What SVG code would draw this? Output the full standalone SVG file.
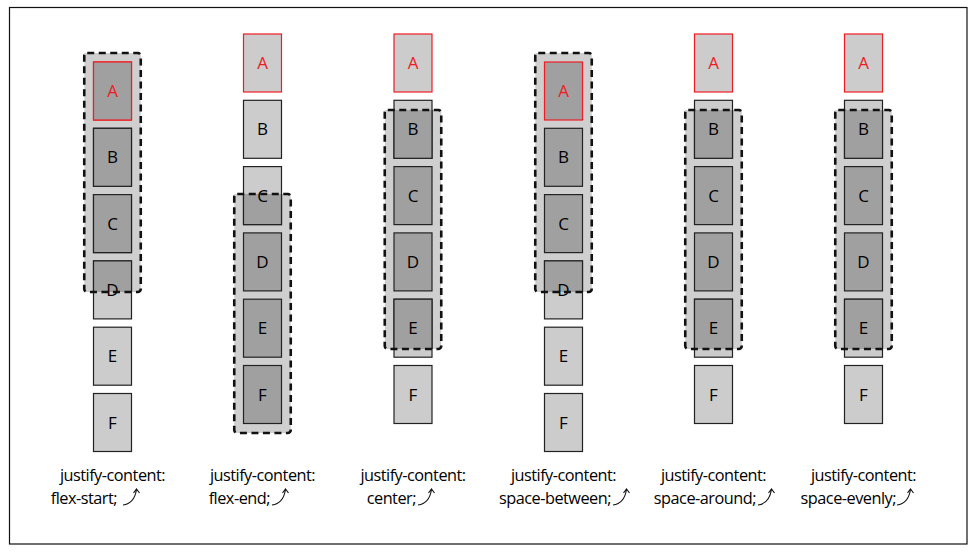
<svg xmlns="http://www.w3.org/2000/svg" width="977" height="552" viewBox="0 0 977 552">
<style>
.lt{fill:#cccccc;stroke:#222;stroke-width:1.2}
.dk{fill:#a0a0a0;stroke:#222;stroke-width:1.2}
.red{stroke:#ee1c24}
.cf{fill:#cfcfcf;stroke:none}
.cb{fill:none;stroke:#111;stroke-width:2.6;stroke-dasharray:7 4.5}
.t{font-family:"Open Sans","Liberation Sans",sans-serif;font-size:17px;fill:#000;text-anchor:middle}
.tr{fill:#ee1c24}
.lb{font-family:"Open Sans","Liberation Sans",sans-serif;font-size:16.3px;letter-spacing:-0.5px;fill:#000}
.ar{fill:none;stroke:#111;stroke-width:1.1}
</style>
<defs>
<clipPath id="k1"><rect x="84.25" y="53" width="56.5" height="239"/></clipPath>
<clipPath id="k2"><rect x="234.25" y="194" width="56.5" height="239"/></clipPath>
<clipPath id="k3"><rect x="384.75" y="110" width="56.5" height="239"/></clipPath>
<clipPath id="k4"><rect x="535.25" y="53" width="56.5" height="239"/></clipPath>
<clipPath id="k5"><rect x="685.25" y="110" width="56.5" height="239"/></clipPath>
<clipPath id="k6"><rect x="835.25" y="110" width="56.5" height="239"/></clipPath>
</defs>
<rect x="9.5" y="7.5" width="957.5" height="536.5" fill="#fff" stroke="#111" stroke-width="1.2"/>

<!-- column 1 flex-start -->
<g id="col1">
<rect class="cf" x="84.25" y="53" width="56.5" height="239"/>
<g id="c1-A"><rect class="lt red" x="93.5" y="62" width="38" height="58"/><rect class="dk red" x="93.5" y="62" width="38" height="58" clip-path="url(#k1)"/><text class="t tr" x="112.5" y="97">A</text></g>
<g id="c1-B"><rect class="lt" x="93.5" y="128.3" width="38" height="58"/><rect class="dk" x="93.5" y="128.3" width="38" height="58" clip-path="url(#k1)"/><text class="t" x="112.5" y="163.3">B</text></g>
<g id="c1-C"><rect class="lt" x="93.5" y="194.6" width="38" height="58"/><rect class="dk" x="93.5" y="194.6" width="38" height="58" clip-path="url(#k1)"/><text class="t" x="112.5" y="229.6">C</text></g>
<g id="c1-D"><rect class="lt" x="93.5" y="260.9" width="38" height="58"/><rect class="dk" x="93.5" y="260.9" width="38" height="58" clip-path="url(#k1)"/><text class="t" x="112.5" y="295.9">D</text></g>
<g id="c1-E"><rect class="lt" x="93.5" y="327.2" width="38" height="58"/><text class="t" x="112.5" y="362.2">E</text></g>
<g id="c1-F"><rect class="lt" x="93.5" y="393.5" width="38" height="58"/><text class="t" x="112.5" y="428.5">F</text></g>
<rect id="c1-box" class="cb" x="84.25" y="53" width="56.5" height="239" rx="3"/>
<text class="lb" x="112.5" y="481" text-anchor="middle">justify-content:</text>
<text class="lb" x="117" y="504" text-anchor="end">flex-start;</text>
</g>

<!-- column 2 flex-end -->
<g id="col2">
<rect class="cf" x="234.25" y="194" width="56.5" height="239"/>
<g id="c2-A"><rect class="lt red" x="243.5" y="34" width="38" height="58"/><text class="t tr" x="262.5" y="69">A</text></g>
<g id="c2-B"><rect class="lt" x="243.5" y="100.3" width="38" height="58"/><text class="t" x="262.5" y="135.3">B</text></g>
<g id="c2-C"><rect class="lt" x="243.5" y="166.6" width="38" height="58"/><rect class="dk" x="243.5" y="166.6" width="38" height="58" clip-path="url(#k2)"/><text class="t" x="262.5" y="201.6">C</text></g>
<g id="c2-D"><rect class="dk" x="243.5" y="232.9" width="38" height="58"/><text class="t" x="262.5" y="267.9">D</text></g>
<g id="c2-E"><rect class="dk" x="243.5" y="299.2" width="38" height="58"/><text class="t" x="262.5" y="334.2">E</text></g>
<g id="c2-F"><rect class="dk" x="243.5" y="365.5" width="38" height="58"/><text class="t" x="262.5" y="400.5">F</text></g>
<rect id="c2-box" class="cb" x="234.25" y="194" width="56.5" height="239" rx="3"/>
<text class="lb" x="262.5" y="481" text-anchor="middle">justify-content:</text>
<text class="lb" x="270" y="504" text-anchor="end">flex-end;</text>
</g>

<!-- column 3 center -->
<g id="col3">
<rect class="cf" x="384.75" y="110" width="56.5" height="239"/>
<g id="c3-A"><rect class="lt red" x="394" y="34" width="38" height="58"/><text class="t tr" x="413" y="69">A</text></g>
<g id="c3-B"><rect class="lt" x="394" y="100.3" width="38" height="58"/><rect class="dk" x="394" y="100.3" width="38" height="58" clip-path="url(#k3)"/><text class="t" x="413" y="135.3">B</text></g>
<g id="c3-C"><rect class="dk" x="394" y="166.6" width="38" height="58"/><text class="t" x="413" y="201.6">C</text></g>
<g id="c3-D"><rect class="dk" x="394" y="232.9" width="38" height="58"/><text class="t" x="413" y="267.9">D</text></g>
<g id="c3-E"><rect class="lt" x="394" y="299.2" width="38" height="58"/><rect class="dk" x="394" y="299.2" width="38" height="58" clip-path="url(#k3)"/><text class="t" x="413" y="334.2">E</text></g>
<g id="c3-F"><rect class="lt" x="394" y="365.5" width="38" height="58"/><text class="t" x="413" y="400.5">F</text></g>
<rect id="c3-box" class="cb" x="384.75" y="110" width="56.5" height="239" rx="3"/>
<text class="lb" x="413" y="481" text-anchor="middle">justify-content:</text>
<text class="lb" x="416" y="504" text-anchor="end">center;</text>
</g>

<!-- column 4 space-between -->
<g id="col4">
<rect class="cf" x="535.25" y="53" width="56.5" height="239"/>
<g id="c4-A"><rect class="dk red" x="544.5" y="62" width="38" height="58"/><text class="t tr" x="563.5" y="97">A</text></g>
<g id="c4-B"><rect class="dk" x="544.5" y="128.3" width="38" height="58"/><text class="t" x="563.5" y="163.3">B</text></g>
<g id="c4-C"><rect class="dk" x="544.5" y="194.6" width="38" height="58"/><text class="t" x="563.5" y="229.6">C</text></g>
<g id="c4-D"><rect class="lt" x="544.5" y="260.9" width="38" height="58"/><rect class="dk" x="544.5" y="260.9" width="38" height="58" clip-path="url(#k4)"/><text class="t" x="563.5" y="295.9">D</text></g>
<g id="c4-E"><rect class="lt" x="544.5" y="327.2" width="38" height="58"/><text class="t" x="563.5" y="362.2">E</text></g>
<g id="c4-F"><rect class="lt" x="544.5" y="393.5" width="38" height="58"/><text class="t" x="563.5" y="428.5">F</text></g>
<rect id="c4-box" class="cb" x="535.25" y="53" width="56.5" height="239" rx="3"/>
<text class="lb" x="563.5" y="481" text-anchor="middle">justify-content:</text>
<text class="lb" x="611" y="504" text-anchor="end">space-between;</text>
</g>

<!-- column 5 space-around -->
<g id="col5">
<rect class="cf" x="685.25" y="110" width="56.5" height="239"/>
<g id="c5-A"><rect class="lt red" x="694.5" y="34" width="38" height="58"/><text class="t tr" x="713.5" y="69">A</text></g>
<g id="c5-B"><rect class="lt" x="694.5" y="100.3" width="38" height="58"/><rect class="dk" x="694.5" y="100.3" width="38" height="58" clip-path="url(#k5)"/><text class="t" x="713.5" y="135.3">B</text></g>
<g id="c5-C"><rect class="dk" x="694.5" y="166.6" width="38" height="58"/><text class="t" x="713.5" y="201.6">C</text></g>
<g id="c5-D"><rect class="dk" x="694.5" y="232.9" width="38" height="58"/><text class="t" x="713.5" y="267.9">D</text></g>
<g id="c5-E"><rect class="lt" x="694.5" y="299.2" width="38" height="58"/><rect class="dk" x="694.5" y="299.2" width="38" height="58" clip-path="url(#k5)"/><text class="t" x="713.5" y="334.2">E</text></g>
<g id="c5-F"><rect class="lt" x="694.5" y="365.5" width="38" height="58"/><text class="t" x="713.5" y="400.5">F</text></g>
<rect id="c5-box" class="cb" x="685.25" y="110" width="56.5" height="239" rx="3"/>
<text class="lb" x="713.5" y="481" text-anchor="middle">justify-content:</text>
<text class="lb" x="756" y="504" text-anchor="end">space-around;</text>
</g>

<!-- column 6 space-evenly -->
<g id="col6">
<rect class="cf" x="835.25" y="110" width="56.5" height="239"/>
<g id="c6-A"><rect class="lt red" x="844.5" y="34" width="38" height="58"/><text class="t tr" x="863.5" y="69">A</text></g>
<g id="c6-B"><rect class="lt" x="844.5" y="100.3" width="38" height="58"/><rect class="dk" x="844.5" y="100.3" width="38" height="58" clip-path="url(#k6)"/><text class="t" x="863.5" y="135.3">B</text></g>
<g id="c6-C"><rect class="dk" x="844.5" y="166.6" width="38" height="58"/><text class="t" x="863.5" y="201.6">C</text></g>
<g id="c6-D"><rect class="dk" x="844.5" y="232.9" width="38" height="58"/><text class="t" x="863.5" y="267.9">D</text></g>
<g id="c6-E"><rect class="lt" x="844.5" y="299.2" width="38" height="58"/><rect class="dk" x="844.5" y="299.2" width="38" height="58" clip-path="url(#k6)"/><text class="t" x="863.5" y="334.2">E</text></g>
<g id="c6-F"><rect class="lt" x="844.5" y="365.5" width="38" height="58"/><text class="t" x="863.5" y="400.5">F</text></g>
<rect id="c6-box" class="cb" x="835.25" y="110" width="56.5" height="239" rx="3"/>
<text class="lb" x="863.5" y="481" text-anchor="middle">justify-content:</text>
<text class="lb" x="896" y="504" text-anchor="end">space-evenly;</text>
</g>

<g id="arrows">
<path id="ar1" class="ar" d="M123,505 C131,504 135,499 136.5,489.5 M133.5,493 L136.5,489 L139.5,493"/>
<path id="ar2" class="ar" d="M272,505 C280,504 284,499 285.5,489.5 M282.5,493 L285.5,489 L288.5,493"/>
<path id="ar3" class="ar" d="M418,505 C426,504 430,499 431.5,489.5 M428.5,493 L431.5,489 L434.5,493"/>
<path id="ar4" class="ar" d="M613,505 C621,504 625,499 626.5,489.5 M623.5,493 L626.5,489 L629.5,493"/>
<path id="ar5" class="ar" d="M758,505 C766,504 770,499 771.5,489.5 M768.5,493 L771.5,489 L774.5,493"/>
<path id="ar6" class="ar" d="M897,505 C905,504 909,499 910.5,489.5 M907.5,493 L910.5,489 L913.5,493"/>
</g>
</svg>
